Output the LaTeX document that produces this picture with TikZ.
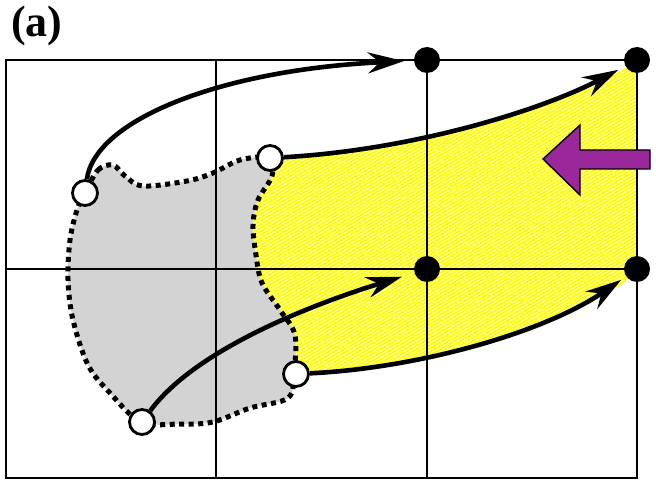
\documentclass[tikz,border=0pt]{standalone}
\usepackage{fontspec}
\setmainfont{Liberation Serif}
\usetikzlibrary{arrows.meta,patterns.meta}
\definecolor{ygold}{RGB}{255,255,0}
\definecolor{grayreg}{RGB}{211,211,211}
\definecolor{purp}{RGB}{155,40,155}
\begin{document}
\begin{tikzpicture}[x=1pt,y=-1pt,
 gridline/.style={line width=2.8pt},
 conn/.style={line width=4.6pt,-{Stealth[length=36pt,width=21pt,inset=12pt]}},
 dot/.style={circle,fill=black,inner sep=0pt,minimum size=26pt},
 hole/.style={circle,draw=black,fill=white,line width=2.8pt,inner sep=0pt,minimum size=25pt},
 border/.style={line width=5pt,dash pattern=on 5pt off 4.5pt}]
\useasboundingbox (0,0) rectangle (656,484);
% yellow region
\path[preaction={fill=ygold}, pattern={Lines[angle=30,distance=3pt,line width=0.7pt]}, pattern color=white]
 (270,158) .. controls (413,150) and (542,110) .. (622,70) -- (637,60) -- (637,269) -- (625,282)
 .. controls (545,332) and (420,368) .. (307,373) -- (296,374) -- (235,300) -- (235,200) -- cycle;
% gray region fill
\fill[grayreg] plot[smooth cycle, tension=0.55] coordinates {
 (85,193) (98,170) (113,165) (125,176) (143,186) (187,181) (213,173) (240,160) (269,158)
 (272,176) (258,200) (253,225) (256,255) (262,283) (280,310) (295,335) (294,373)
 (288,398) (250,408) (213,422) (180,424) (141,422)
 (110,393) (88,365) (73,320) (68,280) (70,240) (77,210)};
% grid
\draw[gridline] (6,60) rectangle (637,478);
\draw[gridline] (216,60) -- (216,478);
\draw[gridline] (427,60) -- (427,478);
\draw[gridline] (6,269) -- (637,269);
% gray region border
\draw[border] plot[smooth cycle, tension=0.55] coordinates {
 (85,193) (98,170) (113,165) (125,176) (143,186) (187,181) (213,173) (240,160) (269,158)
 (272,176) (258,200) (253,225) (256,255) (262,283) (280,310) (295,335) (294,373)
 (288,398) (250,408) (213,422) (180,424) (141,422)
 (110,393) (88,365) (73,320) (68,280) (70,240) (77,210)};
% purple arrow
\filldraw[fill=purp, draw=black, line width=1.4pt] (543,159) -- (580,125) -- (580,150) -- (650,150)
 -- (650,169) -- (580,169) -- (580,195) -- cycle;
% nodes
\node[dot] (T1) at (427,60) {};
\node[dot] (T2) at (637,60) {};
\node[dot] (T3) at (427,269) {};
\node[dot] (T4) at (637,269) {};
\node[hole] (A) at (85,193) {};
\node[hole] (B) at (270,158) {};
\node[hole] (C) at (296,374) {};
\node[hole] (D) at (142,422) {};
% arrows
\draw[conn, shorten >=10pt] (A) .. controls (95,120) and (220,70) .. (T1);
\draw[conn, shorten >=8pt] (B) .. controls (413,150) and (542,110) .. (T2);
\draw[conn, shorten >=13pt] (D) .. controls (195,350) and (310,305) .. (T3);
\draw[conn, shorten >=6pt] (C) .. controls (420,368) and (545,332) .. (T4);
% label
\node[anchor=base west, font=\bfseries\fontsize{44}{44}\selectfont, inner sep=0pt] (lbl) at (11,37) {(a)};
\end{tikzpicture}
\end{document}
